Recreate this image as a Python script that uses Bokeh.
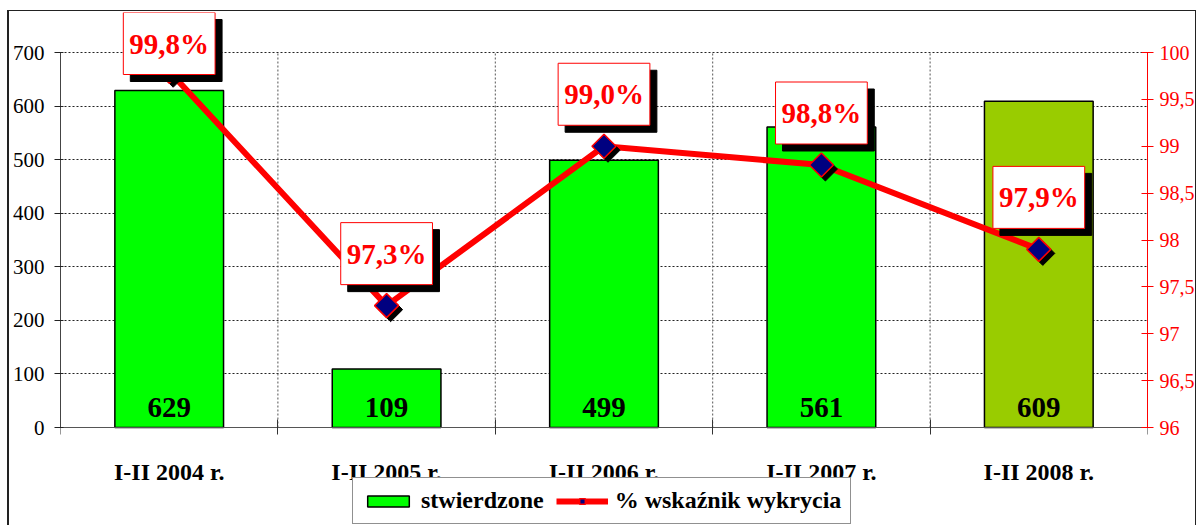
import numpy as np
from bokeh.plotting import figure
from bokeh.models import (Range1d, LinearAxis, FixedTicker, Legend, LegendItem,
                          ColumnDataSource)
from bokeh.core.properties import value
from bokeh.embed import file_html
from bokeh.resources import INLINE

# ---------------- data ----------------
categories = ["I-II 2004 r.", "I-II 2005 r.", "I-II 2006 r.", "I-II 2007 r.", "I-II 2008 r."]
stwierdzone = [629, 109, 499, 561, 609]
wskaznik = [99.8, 97.3, 99.0, 98.8, 97.9]
left_ticks = [0, 100, 200, 300, 400, 500, 600, 700]
right_ticks = [96.0, 96.5, 97.0, 97.5, 98.0, 98.5, 99.0, 99.5, 100.0]
right_tick_labels = ["96", "96,5", "97", "97,5", "98", "98,5", "99", "99,5", "100"]
bar_value_labels = ["629", "109", "499", "561", "609"]
pct_labels = ["99,8%", "97,3%", "99,0%", "98,8%", "97,9%"]

# ---------------- styles / layout ----------------
BAR_COLORS = ["#00FF00", "#00FF00", "#00FF00", "#00FF00", "#99CC00"]
SERIF = value("Liberation Serif")

W, H = 1189, 515
B_LEFT, B_RIGHT, B_TOP, B_BOTTOM = 49, 51, 1, 0
FW = W - B_LEFT - B_RIGHT
FH = H - B_TOP - B_BOTTOM
PLOT_H = 375          # px height of the value area (0..700)
GAP_TOP = 40          # px between frame top and plot-area top
GAP_BOTTOM = FH - PLOT_H - GAP_TOP
n = len(categories)
LEFT_MAX = left_ticks[-1]
px_per_left = PLOT_H / LEFT_MAX
y_start, y_end = -GAP_BOTTOM / px_per_left, LEFT_MAX + GAP_TOP / px_per_left
p_lo, p_hi = right_ticks[0], right_ticks[-1]
px_per_pct = PLOT_H / (p_hi - p_lo)
pct_start, pct_end = p_lo - GAP_BOTTOM / px_per_pct, p_hi + GAP_TOP / px_per_pct
px_per_x = FW / n

xc = np.arange(n) + 0.5
bnd = np.arange(n + 1)

p = figure(width=W, height=H, x_range=Range1d(0, n), y_range=Range1d(y_start, y_end),
           output_backend="svg", toolbar_location=None,
           min_border_left=B_LEFT, min_border_right=B_RIGHT,
           min_border_top=B_TOP, min_border_bottom=B_BOTTOM,
           outline_line_color=None, background_fill_color="white",
           border_fill_color="white", margin=(10, 0, 0, 7),
           styles={"border-left": "2px solid #222222",
                   "border-top": "1.5px solid #222222",
                   "border-right": "1.5px solid #222222"})
p.extra_y_ranges = {"pct": Range1d(pct_start, pct_end)}

# grids
p.xgrid.visible = False
p.ygrid.ticker = FixedTicker(ticks=left_ticks[1:])
p.ygrid.grid_line_color = "#222222"
p.ygrid.grid_line_dash = "2 2"
p.ygrid.grid_line_width = 1
p.segment(x0=bnd[1:], y0=0, x1=bnd[1:], y1=LEFT_MAX, line_color="#555555",
          line_dash="2 2", line_width=1)

# bars
src = ColumnDataSource(dict(x=xc, top=stwierdzone, color=BAR_COLORS, lab=bar_value_labels))
bars = p.vbar(x="x", top="top", width=0.5, bottom=0, fill_color="color",
              line_color="black", line_width=1.5, source=src)
p.text(x="x", y=0, text="lab", source=src, text_align="center",
       text_baseline="alphabetic", y_offset=-20, text_font=SERIF,
       text_font_style="bold", text_font_size="29px", text_color="black")

# line + markers
line = p.line(xc, wskaznik, y_range_name="pct", line_color="red", line_width=6)
shadow_x = xc + 4 / px_per_x
shadow_y = np.array(wskaznik) - 4 / px_per_pct
p.scatter(shadow_x, shadow_y, y_range_name="pct", marker="square", angle=np.pi / 4,
          size=17, fill_color="black", line_color="black")
markers = p.scatter(xc, wskaznik, y_range_name="pct", marker="square", angle=np.pi / 4,
                    size=17, fill_color="#000080", line_color="red", line_width=1.5)

# data labels (boxes with shadow)
lab_y = np.minimum(np.array(wskaznik) + 52 / px_per_pct, pct_end - 31 / px_per_pct)
lsrc = ColumnDataSource(dict(x=xc, y=lab_y, t=pct_labels))
pad = dict(left=6, right=6, top=15, bottom=15)
p.text(x="x", y="y", text="t", source=lsrc, y_range_name="pct", text_align="center",
       text_baseline="middle", x_offset=7, y_offset=7, text_font=SERIF,
       text_font_style="bold", text_font_size="29px", text_color="black",
       background_fill_color="black", border_line_color="black", padding=pad)
p.text(x="x", y="y", text="t", source=lsrc, y_range_name="pct", text_align="center",
       text_baseline="middle", text_font=SERIF,
       text_font_style="bold", text_font_size="29px", text_color="red",
       background_fill_color="white", border_line_color="red", border_line_width=1,
       padding=pad)

# left axis
ya = p.yaxis[0]
ya.bounds = (0, LEFT_MAX)
ya.ticker = FixedTicker(ticks=left_ticks)
ya.axis_line_color = "#444444"
ya.major_tick_line_color = "#222222"
ya.major_tick_in = 3
ya.major_tick_out = 6
ya.minor_tick_line_color = None
ya.major_label_standoff = 10
ya.major_label_text_font = "Liberation Sans Narrow"
ya.major_label_text_font_size = "21px"
ya.major_label_text_color = "black"

# right axis
ra = LinearAxis(y_range_name="pct", bounds=(p_lo, p_hi),
                ticker=FixedTicker(ticks=right_ticks),
                major_label_overrides={t: s for t, s in zip(right_ticks, right_tick_labels)})
ra.axis_line_color = "red"
ra.major_tick_line_color = "red"
ra.major_tick_in = 6
ra.major_tick_out = 6
ra.minor_tick_line_color = None
ra.major_label_standoff = 6
ra.major_label_text_font = "Liberation Sans Narrow"
ra.major_label_text_font_size = "20px"
ra.major_label_text_color = "red"
p.add_layout(ra, "right")

# x axis (drawn at value 0 inside the chart area)
xa = p.xaxis[0]
xa.fixed_location = 0
xa.ticker = FixedTicker(ticks=list(xc), minor_ticks=list(bnd))
xa.major_label_overrides = {float(c): s for c, s in zip(xc, categories)}
xa.major_tick_in = 0
xa.major_tick_out = 0
xa.minor_tick_in = 8
xa.minor_tick_out = 7
xa.minor_tick_line_color = "#333333"
xa.axis_line_color = "#555555"
xa.major_label_standoff = 24
xa.major_label_text_font = "Liberation Serif"
xa.major_label_text_font_style = "bold"
xa.major_label_text_font_size = "24px"
xa.major_label_text_color = "black"

# legend
legend = Legend(items=[LegendItem(label="stwierdzone", renderers=[bars]),
                       LegendItem(label="% wskaźnik wykrycia", renderers=[line, markers])],
                location=(292, 2), orientation="horizontal",
                border_line_color="#222222", border_line_width=1.5,
                background_fill_color="white", background_fill_alpha=1,
                padding=9, spacing=12, margin=0, glyph_width=52, glyph_height=14,
                label_standoff=7, label_text_font="Liberation Serif",
                label_text_font_style="bold", label_text_font_size="24px",
                label_text_color="black", label_height=20)
p.add_layout(legend, "center")

open("out.html", "w").write(file_html(p, INLINE))
